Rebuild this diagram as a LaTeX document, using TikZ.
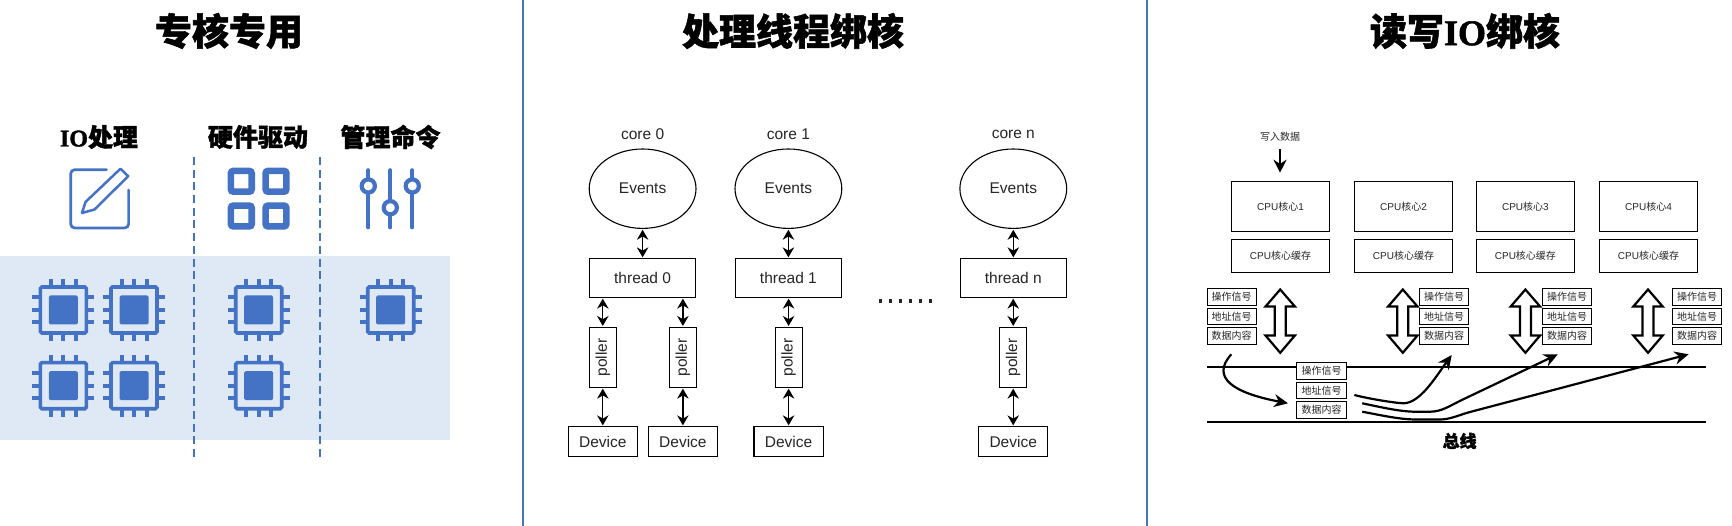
\documentclass[tikz,border=0pt]{standalone}
\usepackage{fontspec}
\setmainfont{Liberation Sans}
\newfontfamily\cjk{Noto Sans CJK SC}
\newfontfamily\cjkh[BoldFeatures={FakeBold=1.5}]{Noto Sans CJK SC}
\newfontfamily\lath[BoldFeatures={FakeBold=1.5}]{Liberation Serif}
\usetikzlibrary{arrows.meta,shapes.geometric}
\definecolor{iconblue}{HTML}{4472C4}
\definecolor{bandblue}{HTML}{DEE9F5}
\newcommand{\fs}[1]{\fontsize{#1}{#1}\selectfont}
\tikzset{
  x=1pt,y=-1pt,
  sep/.style={draw=iconblue,line width=2pt},
  dashsep/.style={draw=iconblue,line width=2pt,dash pattern=on 8pt off 4.7pt},
  ttl/.style={font=\fs{37}\cjkh\bfseries,inner sep=0pt},
  subttl/.style={font=\fs{25}\cjkh\bfseries,inner sep=0pt},
  lbl/.style={font=\fs{15.5},inner sep=0pt,black!85},
  pbox/.style={draw=black,line width=1.1pt,inner sep=0pt,font=\fs{15.5},text=black!85},
  dbl/.style={{Stealth[length=10pt,width=11.5pt]}-{Stealth[length=10pt,width=11.5pt]},line width=1.3pt,shorten >=.8pt,shorten <=.8pt},
  cbox/.style={draw=black,line width=.9pt,inner sep=0pt,font=\fs{10},text=black!85},
  sbox/.style={draw=black,line width=.9pt,inner sep=0pt,font=\fs{10}\cjk,text=black!85,fill=white,minimum width=49.4pt,minimum height=16.7pt},
  bus/.style={line width=2.2pt,black},
  bigarrow/.style={draw=black,line width=2.2pt,miter limit=10,fill=white},
  flow/.style={line width=2.2pt,-{Stealth[length=14pt,width=13pt]}},
  chip/.pic={
    \foreach \d in {-12.5,0,12.5}{
      \fill[iconblue] (\d-2,-31) rectangle (\d+2,31);
      \fill[iconblue] (-31,\d-2) rectangle (31,\d+2);
    }
    \fill[bandblue] (-24.5,-24.5) rectangle (24.5,24.5);
    \draw[iconblue,line width=3.6pt,rounded corners=1.5pt] (-23,-23) rectangle (23,23);
    \fill[iconblue,rounded corners=1.5pt] (-14.5,-14.5) rectangle (14.5,14.5);
  },
}
\begin{document}
\begin{tikzpicture}
\useasboundingbox (0,0) rectangle (1732,526);
\fill[white] (0,0) rectangle (1732,526);
% separators
\coordinate (s1a) at (523,0); \coordinate (s1b) at (523,526);
\coordinate (s2a) at (1147,0); \coordinate (s2b) at (1147,526);
\draw[sep] (s1a) -- (s1b);
\draw[sep] (s2a) -- (s2b);
% titles
\node[ttl] (t1) at (229,31) {专核专用};
\node[ttl] (t2) at (793,31) {处理线程绑核};
\node[ttl] (t3) at (1465,31) {读写{\lath\fs{36}IO}绑核};
% ---- panel 1
\fill[bandblue] (0,256) rectangle (450,440);
\coordinate (d1a) at (194,157); \coordinate (d1b) at (194,458);
\coordinate (d2a) at (320,157); \coordinate (d2b) at (320,458);
\draw[dashsep] (d1a) -- (d1b);
\draw[dashsep] (d2a) -- (d2b);
\node[subttl] (l1) at (99,137) {{\lath\fs{24}IO}处理};
\node[subttl] (l2) at (258,137) {硬件驱动};
\node[subttl] (l3) at (390.5,137) {管理命令};
% pencil icon
\draw[iconblue,line width=2.7pt,line cap=round,rounded corners=4pt]
  (106.5,169.7) -- (70.7,169.7) -- (70.7,228) -- (128.6,228) -- (128.6,190);
\draw[iconblue,line width=2.5pt,line join=round]
  (120.5,168.7) -- (128.2,176.2) -- (94.5,209.5) -- (82,213) -- (85.5,202) -- cycle;
% grid icon
\foreach \cx in {241.3,276}{\foreach \cy in {181.3,216}{
  \draw[iconblue,line width=6.6pt,rounded corners=2.5pt] (\cx-10.4,\cy-10.4) rectangle (\cx+10.4,\cy+10.4);
}}
% slider icon
\foreach \sx/\ky in {368.3/186,390.3/207.7,412.3/186}{
  \draw[iconblue,line width=4.2pt,line cap=round] (\sx,170.3) -- (\sx,227.3);
  \draw[iconblue,line width=4.2pt,fill=white] (\sx,\ky) circle (6.6);
}
% chips
\foreach \cx/\cy in {63.3/310,134/310,63.3/385.7,134/385.7,258.7/310,258.7/385.7,390.7/310}{
  \pic at (\cx,\cy) {chip};
}
% ---- panel 2
\foreach \id/\cx/\cl/\th in {a/642.6/core 0/thread 0,b/788.4/core 1/thread 1,c/1013.3/core n/thread n}{
  \node[lbl] (core\id) at (\cx,134) {\cl};
  \node[pbox,ellipse,minimum width=106.8pt,minimum height=79.4pt] (ev\id) at (\cx,188.7) {Events};
  \node[pbox,minimum width=106pt,minimum height=38.6pt] (th\id) at (\cx,278) {\th};
  \draw[dbl] (ev\id.south) -- (th\id.north);
}
\foreach \id/\cx/\tn in {p/602.8/a,q/682.9/a,r/788.6/b,s/1013.2/c}{
  \node[pbox,minimum width=27pt,minimum height=60pt] (po\id) at (\cx,357.3) {\rotatebox{90}{poller}};
  \node[pbox,minimum width=69.2pt,minimum height=30pt] (de\id) at (\cx,441.7) {Device};
  \draw[dbl] (th\tn.south -| po\id.north) -- (po\id.north);
  \draw[dbl] (po\id.south) -- (de\id.north);
}
\coordinate (dotsa) at (878.5,301); \coordinate (dotsb) at (936,301);
\draw[line width=3.2pt,dash pattern=on 3.4pt off 6.7pt,black!85] (dotsa) -- (dotsb);
% ---- panel 3
\node[font=\fs{10}\cjk,inner sep=0pt,black!85] (wr) at (1280,136.7) {写入数据};
\foreach \id/\cx/\n in {1/1280.5/1,2/1403.5/2,3/1525.4/3,4/1648.5/4}{
  \node[cbox,minimum width=98.4pt,minimum height=50pt] (cpu\id) at (\cx,206.3) {CPU{\cjk 核心}\n};
  \node[cbox,minimum width=98.4pt,minimum height=33.4pt] (cache\id) at (\cx,256) {CPU{\cjk 核心缓存}};
}
\coordinate (wra) at (1280,149); \coordinate (wrb) at (1280,172.7);
\draw[line width=2.2pt,-{Stealth[length=13pt,width=13pt]}] (wra) -- (wrb);
\foreach \cx in {1280.2,1402.8,1525.4,1648}{
  \draw[bigarrow] (\cx,289.5) -- (\cx+14.7,306.5) -- (\cx+5.5,306.5) -- (\cx+5.5,335.5) -- (\cx+14.7,335.5)
    -- (\cx,352.8) -- (\cx-14.7,335.5) -- (\cx-5.5,335.5) -- (\cx-5.5,306.5) -- (\cx-14.7,306.5) -- cycle;
}
\coordinate (b1a) at (1206.9,367.3); \coordinate (b1b) at (1705.5,367.3);
\coordinate (b2a) at (1206.9,422.3); \coordinate (b2b) at (1705.5,422.3);
\draw[bus] (b1a) -- (b1b);
\draw[bus] (b2a) -- (b2b);
\foreach \id/\cx/\ty in {u/1231.7/296.7,v/1444/296.7,w/1567/296.7,x/1697.2/296.7,y/1321.5/370.7}{
  \node[sbox] (op\id) at (\cx,\ty) {操作信号};
  \node[sbox] (ad\id) at (\cx,\ty+19.7) {地址信号};
  \node[sbox] (da\id) at (\cx,\ty+39.3) {数据内容};
}
\node[font=\fs{17}\cjkh\bfseries,inner sep=0pt] (bl) at (1459.6,441) {总线};
% flows
\coordinate (fa0) at (1231.3,354.3); \coordinate (fa1) at (1288,403.3);
\draw[flow] (fa0) .. controls (1210,378) and (1234,393) .. (fa1);
\coordinate (fb0) at (1354.3,395); \coordinate (fb1) at (1451.7,355);
\draw[flow] (fb0) .. controls (1370,399) and (1395,403) .. (1403.5,403.3) .. controls (1420,403) and (1435,378) .. (fb1);
\coordinate (fc0) at (1362.2,403.3); \coordinate (fc1) at (1557.8,354.3);
\draw[flow] (fc0) .. controls (1380,407) and (1400,411.7) .. (1415,411.7) -- (1430,411.7) .. controls (1442,411.7) and (1450,405.6) .. (1462,399.9) -- (fc1);
\coordinate (fd0) at (1362.2,411.7); \coordinate (fd1) at (1688.6,354.3);
\draw[flow] (fd0) .. controls (1385,416) and (1400,419.5) .. (1417,419.5) -- (1440,419.5) .. controls (1450,419.5) and (1458,415.3) .. (1470,412) -- (fd1);
\end{tikzpicture}
\end{document}
